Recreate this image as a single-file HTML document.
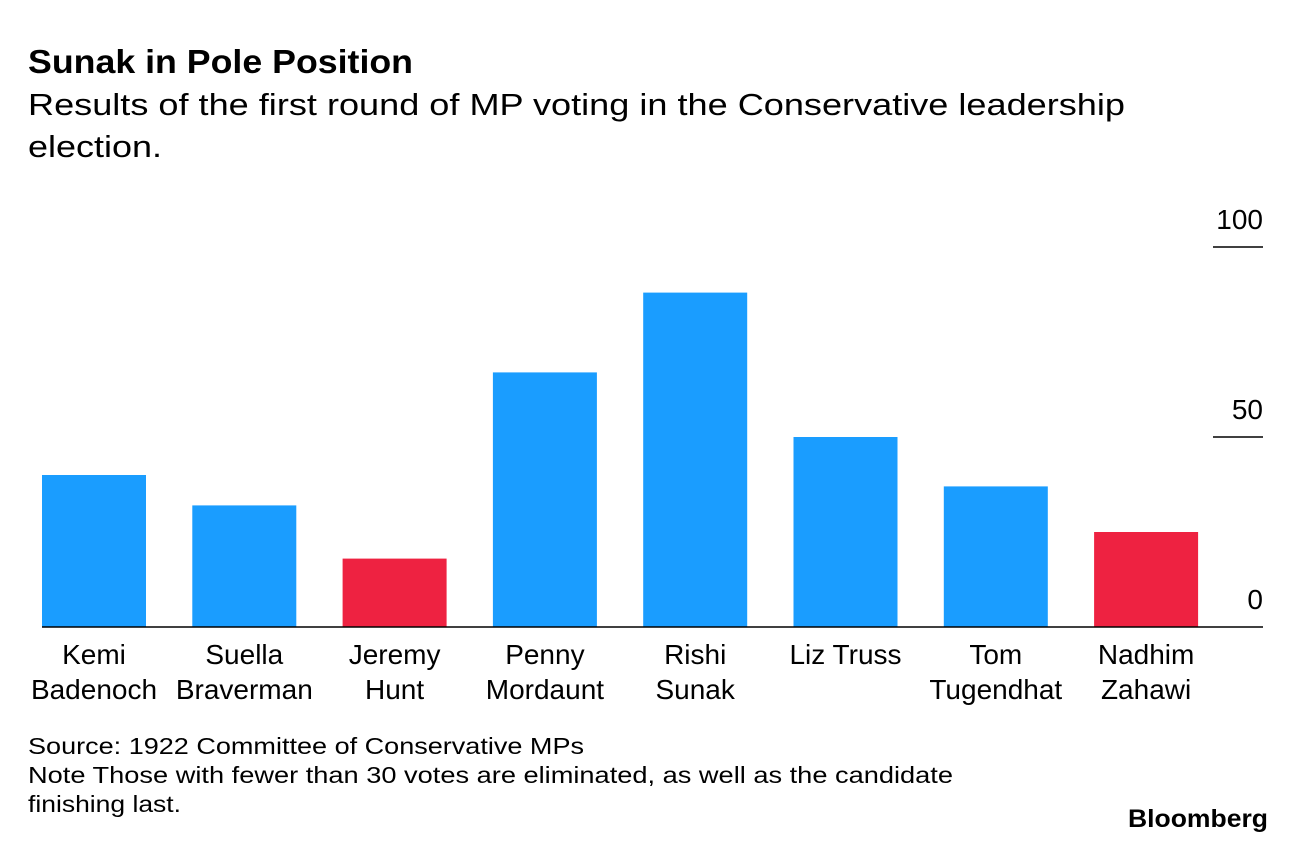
<!DOCTYPE html>
<html><head><meta charset="utf-8"><style>
body{margin:0;background:#fff;font-family:"Liberation Sans",Arial,sans-serif;}
svg text{font-family:"Liberation Sans",Arial,sans-serif;}
</style></head><body>
<svg width="1296" height="844" xmlns="http://www.w3.org/2000/svg">
<text x="28" y="73" font-size="33" font-weight="bold" fill="#000" textLength="385" lengthAdjust="spacingAndGlyphs">Sunak in Pole Position</text>
<text x="28" y="115" font-size="31" fill="#000" textLength="1097" lengthAdjust="spacingAndGlyphs">Results of the first round of MP voting in the Conservative leadership</text>
<text x="28" y="157" font-size="31" fill="#000" textLength="134" lengthAdjust="spacingAndGlyphs">election.</text>
<g id="plot"></g>
<text x="28" y="754" font-size="23" fill="#000" textLength="556" lengthAdjust="spacingAndGlyphs">Source: 1922 Committee of Conservative MPs</text>
<text x="28" y="783" font-size="23" fill="#000" textLength="925" lengthAdjust="spacingAndGlyphs">Note Those with fewer than 30 votes are eliminated, as well as the candidate</text>
<text x="28" y="812" font-size="23" fill="#000" textLength="153" lengthAdjust="spacingAndGlyphs">finishing last.</text>
<text x="1128" y="827" font-size="25" font-weight="bold" fill="#000" textLength="140" lengthAdjust="spacingAndGlyphs">Bloomberg</text>
</svg>
<script>
const first=["Kemi","Suella","Jeremy","Penny","Rishi","Liz Truss","Tom","Nadhim"];
const last=["Badenoch","Braverman","Hunt","Mordaunt","Sunak","","Tugendhat","Zahawi"];
const votes=[40,32,18,67,88,50,37,25];
const eliminated=[false,false,true,false,false,false,false,true];
const ticks=[0,50,100];
const NS="http://www.w3.org/2000/svg";
const g=document.getElementById('plot');
const y0=627,scale=3.8,x0=42,pitch=150.3,bw=104;
const yS=v=>y0-v*scale;
function mk(t,a){const e=document.createElementNS(NS,t);for(const k in a)e.setAttribute(k,a[k]);g.appendChild(e);return e;}
votes.forEach((v,i)=>{
 const r=mk('rect',{x:x0+i*pitch,y:yS(v),width:bw,height:v*scale,fill:eliminated[i]?'#ee2241':'#1a9dff'});
 
 
 const cx=x0+i*pitch+bw/2;
 const t1=mk('text',{x:cx,y:664,'font-size':28,'text-anchor':'middle',fill:'#000'});t1.textContent=first[i];
 
 
 if(last[i]){const t2=mk('text',{x:cx,y:699,'font-size':28,'text-anchor':'middle',fill:'#000'});t2.textContent=last[i];
 
 }
});
ticks.forEach(t=>{
 if(t>0){const l=mk('line',{x1:1213,x2:1263,y1:yS(t),y2:yS(t),stroke:'#000','stroke-width':1.5});
 
 }
 const tx=mk('text',{x:1263,y:yS(t)-18,'font-size':28,'text-anchor':'end',fill:'#000'});tx.textContent=t;
 
 
});
const ax=mk('line',{x1:42,x2:1263,y1:y0,y2:y0,stroke:'#000','stroke-width':1.5});


</script>
</body></html>
